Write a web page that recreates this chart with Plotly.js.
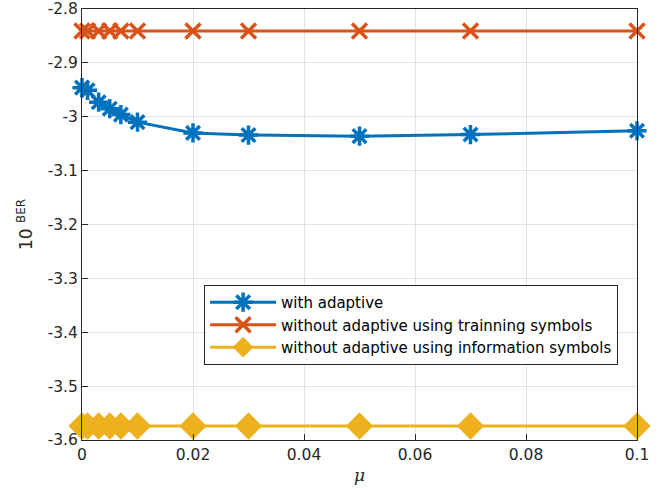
<!DOCTYPE html>
<html>
<head>
<meta charset="utf-8">
<script src="https://cdn.plot.ly/plotly-3.0.1.min.js"></script>
<style>html,body{margin:0;padding:0;background:#fff;}#chart{width:661px;height:490px;}</style>
</head>
<body>
<div id="chart"></div>
<script>
const mu = [0, 0.001, 0.003, 0.005, 0.007, 0.01, 0.02, 0.03, 0.05, 0.07, 0.1];
const withAdaptive = [-2.946, -2.951, -2.973, -2.985, -2.996, -3.010, -3.030, -3.034, -3.036, -3.033, -3.026];
const withoutTraining = [-2.841, -2.841, -2.841, -2.841, -2.841, -2.841, -2.841, -2.841, -2.841, -2.841, -2.841];
const withoutInfo = [-3.574, -3.574, -3.574, -3.574, -3.574, -3.574, -3.574, -3.574, -3.574, -3.574, -3.574];
const names = ['with adaptive', 'without adaptive using trainning symbols', 'without adaptive using information symbols'];
const xTicks = [0, 0.02, 0.04, 0.06, 0.08, 0.1];
const xTickLabels = ['0', '0.02', '0.04', '0.06', '0.08', '0.1'];
const yTicks = [-3.6, -3.5, -3.4, -3.3, -3.2, -3.1, -3, -2.9, -2.8];
const yTickLabels = ['-3.6', '-3.5', '-3.4', '-3.3', '-3.2', '-3.1', '-3', '-2.9', '-2.8'];

const FONT = 'DejaVu Sans, Liberation Sans, Arial, sans-serif';

const traces = [
  {x: mu, y: withAdaptive, name: names[0], mode: 'lines+markers', cliponaxis: false,
   line: {color: '#0072BD', width: 3},
   marker: {symbol: 'asterisk-open', size: 16, color: '#0072BD', line: {color: '#0072BD', width: 3.5}}},
  {x: mu, y: withoutTraining, name: names[1], mode: 'lines+markers', cliponaxis: false,
   line: {color: '#D95319', width: 3},
   marker: {symbol: 'x-thin-open', size: 15, color: '#D95319', line: {color: '#D95319', width: 3.5}}},
  {x: mu, y: withoutInfo, name: names[2], mode: 'lines+markers', cliponaxis: false,
   line: {color: '#EDB120', width: 3},
   marker: {symbol: 'diamond', size: 21, color: '#EDB120', line: {width: 0}}}
];

const axisCommon = {
  showline: true, mirror: true, linecolor: '#262626', linewidth: 1,
  ticks: 'inside', ticklen: 6, tickcolor: '#262626',
  showgrid: true, gridcolor: '#e3e3e3', gridwidth: 1, zeroline: false,
  tickfont: {family: FONT, size: 15.5, color: '#262626'}
};

const layout = {
  width: 661, height: 490,
  margin: {l: 82, r: 24, t: 9, b: 50},
  paper_bgcolor: '#ffffff', plot_bgcolor: '#ffffff',
  showlegend: true,
  xaxis: Object.assign({}, axisCommon, {
    range: [0, 0.1], tickvals: xTicks, ticktext: xTickLabels,
    title: {text: '<i>μ</i>', standoff: 6, font: {family: 'DejaVu Serif, Liberation Serif, serif', size: 17, color: '#262626'}}
  }),
  yaxis: Object.assign({}, axisCommon, {
    range: [-3.6, -2.8], tickvals: yTicks, ticktext: yTickLabels,
    title: {text: '10 <sup>BER</sup>', standoff: 10, font: {family: FONT, size: 17, color: '#262626'}}
  }),
  legend: {
    x: 0.22, y: 0.267, xanchor: 'left', yanchor: 'middle',
    bgcolor: '#ffffff', bordercolor: '#262626', borderwidth: 1,
    font: {family: FONT, size: 15, color: '#000000'},
    tracegroupgap: 0, itemwidth: 66
  }
};

Plotly.newPlot('chart', traces, layout, {displayModeBar: false, staticPlot: true});
</script>
</body>
</html>
